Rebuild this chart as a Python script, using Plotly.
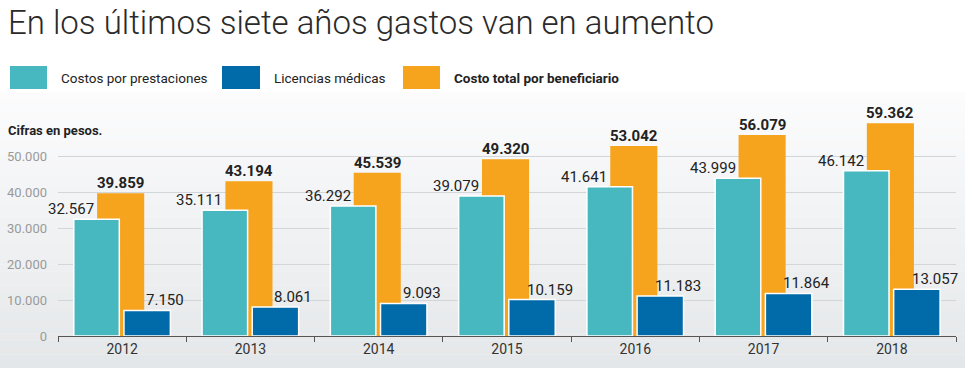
import plotly.graph_objects as go

W, H = 972, 368

years = ["2012", "2013", "2014", "2015", "2016", "2017", "2018"]
costos_prestaciones = [32567, 35111, 36292, 39079, 41641, 43999, 46142]
licencias_medicas = [7150, 8061, 9093, 10159, 11183, 11864, 13057]
costo_total = [39859, 43194, 45539, 49320, 53042, 56079, 59362]
y_ticks = [0, 10000, 20000, 30000, 40000, 50000]

title = "En los últimos siete años gastos van en aumento"
subtitle = "Cifras en pesos."
names = ["Costos por prestaciones", "Licencias médicas", "Costo total por beneficiario"]

C_TEAL = "#48b8c0"
C_BLUE = "#016aa9"
C_ORANGE = "#f6a31d"
FONT = "Roboto"

def px(x):
    return x / W

def py(y):
    return 1 - y / H

def fmt(v):
    return f"{v:,}".replace(",", ".")

fig = go.Figure()

fig.add_trace(go.Bar(x=years, y=costo_total, name=names[2], marker_color=C_ORANGE,
                     offset=-0.195, width=0.367, marker_line_width=0))
fig.add_trace(go.Bar(x=years, y=costos_prestaciones, name=names[0], marker_color=C_TEAL,
                     offset=-0.377, width=0.355, marker_line=dict(color="white", width=1.5)))
fig.add_trace(go.Bar(x=years, y=licencias_medicas, name=names[1], marker_color=C_BLUE,
                     offset=0.014, width=0.362, marker_line=dict(color="white", width=1.5)))

annotations = []
for i, v in enumerate(costos_prestaciones):
    annotations.append(dict(x=i, y=v, xref="x", yref="y", text=fmt(v), showarrow=False,
                            xshift=-51, yshift=10, yanchor="middle",
                            font=dict(family=FONT, size=15, color="#222")))
for i, v in enumerate(licencias_medicas):
    annotations.append(dict(x=i, y=v, xref="x", yref="y", text=fmt(v), showarrow=False,
                            xshift=43, yshift=10, yanchor="middle",
                            font=dict(family=FONT, size=15, color="#222")))
for i, v in enumerate(costo_total):
    annotations.append(dict(x=i, y=v, xref="x", yref="y", text=f"<b>{fmt(v)}</b>", showarrow=False,
                            xshift=-1.5, yshift=10, yanchor="middle",
                            font=dict(family=FONT, size=15, color="#222")))

# title, subtitle
annotations.append(dict(x=px(6), y=py(22), xref="paper", yref="paper", text=title, showarrow=False,
                        xanchor="left", yanchor="middle",
                        font=dict(family=FONT, size=33, color="#2a2a2a", weight=300)))
annotations.append(dict(x=px(6), y=py(130), xref="paper", yref="paper", text=f"<b>{subtitle}</b>",
                        showarrow=False, xanchor="left", yanchor="middle",
                        font=dict(family=FONT, size=13, color="#222")))

shapes = []
# background gradient panel
top_c = (252, 252, 253)
bot_c = (228, 231, 233)
y0, y1 = 92, 368
n = 40
for i in range(n):
    a = y0 + (y1 - y0) * i / n
    b = y0 + (y1 - y0) * (i + 1) / n
    t = (i + 0.5) / n
    c = tuple(round(top_c[k] + (bot_c[k] - top_c[k]) * t) for k in range(3))
    shapes.append(dict(type="rect", xref="paper", yref="paper", x0=px(0), x1=px(965),
                       y0=py(b) - 0.001, y1=py(a), fillcolor=f"rgb{c}", line_width=0, layer="below"))

legend_items = [(10, 47, 59, names[0], C_TEAL, False),
                (222, 260, 272, names[1], C_BLUE, False),
                (403, 440, 452, names[2], C_ORANGE, True)]
for sx0, sx1, tx, label, col, bold in legend_items:
    shapes.append(dict(type="rect", xref="paper", yref="paper", x0=px(sx0), x1=px(sx1),
                       y0=py(89), y1=py(66), fillcolor=col, line_width=0))
    annotations.append(dict(x=px(tx), y=py(77.5), xref="paper", yref="paper",
                            text=f"<b>{label}</b>" if bold else label, showarrow=False,
                            xanchor="left", yanchor="middle",
                            font=dict(family=FONT, size=13.5, color="#222")))

fig.update_layout(
    width=W, height=H,
    margin=dict(l=0, r=0, t=0, b=0, pad=0),
    paper_bgcolor="white",
    plot_bgcolor="rgba(0,0,0,0)",
    barmode="overlay",
    showlegend=False,
    separators=",.",
    shapes=shapes,
    annotations=annotations,
    font=dict(family=FONT),
    xaxis=dict(domain=[px(58), px(956)], range=[-0.5, 6.5], type="category", automargin=False,
               showgrid=False, showline=True, linecolor="#555", linewidth=1,
               ticks="outside", tickson="boundaries", ticklen=5, tickcolor="#555",
               tickfont=dict(family=FONT, size=14, color="#333"), zeroline=False),
    yaxis=dict(domain=[py(336), py(113.8)], range=[0, 62000], tickvals=y_ticks, automargin=False,
               tickformat=",d", showgrid=True, gridcolor="#d2d6d9", gridwidth=1,
               zeroline=False, showline=False, ticks="", ticklabelstandoff=10,
               tickfont=dict(family=FONT, size=13, color="#9a9a9a")),
)

fig.write_html("out.html", config={"displayModeBar": False},
               post_script="document.body.style.margin='0';document.body.style.overflow='hidden';")
